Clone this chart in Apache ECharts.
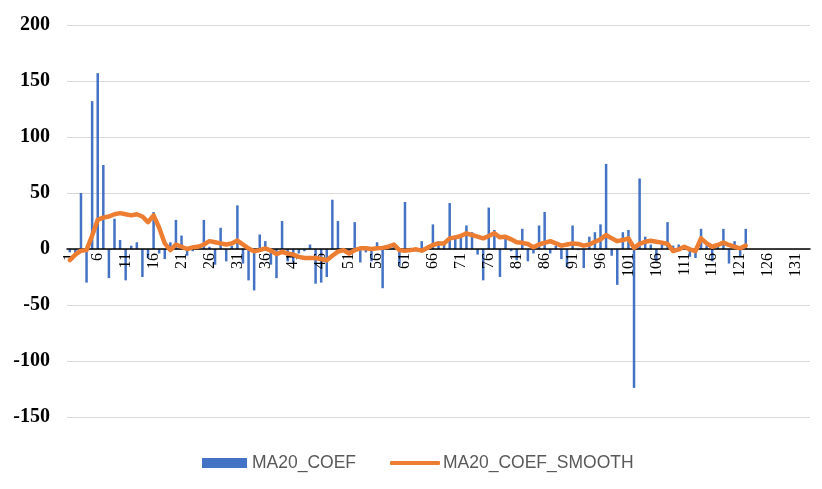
<!DOCTYPE html>
<html>
<head>
<meta charset="utf-8">
<script src="https://cdn.jsdelivr.net/npm/echarts@6/dist/echarts.min.js"></script>
<style>
html,body{margin:0;padding:0;background:#fff;}
#c{width:822px;height:489px;}
</style>
</head>
<body>
<div id="c"></div>
<script>
// Category labels 1..133
const categories = [];
for (let i = 1; i <= 133; i++) categories.push(String(i));

// MA20_COEF values (categories 1..122)
const coef = [
  -3, -5, 50, -30, 132, 157, 75, -26, 27, 8,
  -28, 3, 6, -25, -8, 33, -4, -9, 6, 26,
  12, -6, -2, 3, 26, 2, -14, 19, -11, 3,
  39, -13, -28, -37, 13, 7, -14, -26, 25, -11,
  -12, -4, -2, 4, -31, -30, -25, 44, 25, -2,
  -3, 24, -12, -3, -11, 6, -35, 2, 3, -15,
  42, 1, -2, 7, 2, 22, 7, 7, 41, 12,
  13, 21, 15, -5, -28, 37, 17, -25, 12, -2,
  -10, 18, -11, -4, 21, 33, -4, 3, -9, -16,
  21, -1, -17, 11, 15, 22, 76, -6, -32, 15,
  17, -124, 63, 11, 4, -11, 7, 24, 3, 4,
  2, -7, -8, 18, 3, -11, 2, 18, -13, 7,
  -7, 18
];

// MA20_COEF_SMOOTH values (categories 1..122)
const coefSmooth = [
  -10, -5, -1.5, -1, 12, 26, 28, 29, 31, 32,
  31, 30, 31, 29, 24, 30, 19, 5, -1, 4,
  2, 0, 1.5, 2, 4, 7, 6, 5, 4, 5,
  7.5, 4, 0.5, -2, -1, 0.5, -1.5, -4.5, -2.5, -4,
  -5, -7, -8, -8, -8, -9, -10, -6, -2.4, -1,
  -4, -1, 0.6, 0.6, 0, 0.6, 1, 2, 4, -1,
  -1.5, -1, -0.3, -1.5, 1, 3.6, 5, 5, 9.5, 10.4,
  11.6, 14, 12.5, 11, 9.5, 11.6, 14, 10.4, 11, 8.6,
  6, 5.5, 4.5, 1.5, 4, 5.5, 7, 5, 3, 4,
  5, 4.5, 3, 4, 6.5, 8.6, 12.5, 9.5, 7, 8,
  9.5, 1, 4.5, 6.5, 7.4, 6.5, 5.7, 4.5, -1.8, -0.3,
  2, -0.3, -1.8, 9.5, 5, 2, 3.6, 5.7, 3.6, 2,
  0.6, 3
];

const yTicks = { min: -150, max: 200, interval: 50 };

const gridTop = 25, gridBottom = 72, chartH = 489;
const plotH = chartH - gridTop - gridBottom;
// move the category axis (line + labels) up to the zero line
const zeroOffset = -plotH * (0 - yTicks.min) / (yTicks.max - yTicks.min);

const legendText = { fontFamily: 'Liberation Sans, Arial, sans-serif', fontSize: 17.5, color: '#595959' };

const chart = echarts.init(document.getElementById('c'), null, { renderer: 'canvas' });
chart.setOption({
  animation: false,
  backgroundColor: '#ffffff',
  grid: { left: 67, right: 12, top: gridTop, bottom: gridBottom, containLabel: false },
  legend: [
    {
      data: [{ name: 'MA20_COEF', icon: 'rect' }],
      left: 197, top: 449,
      itemWidth: 45, itemHeight: 10, itemGap: 5,
      textStyle: Object.assign({ padding: [0, 0, 0, 0] }, legendText)
    },
    {
      data: [{ name: 'MA20_COEF_SMOOTH', icon: 'roundRect' }],
      left: 385, top: 449,
      itemWidth: 50, itemHeight: 4, itemGap: 3,
      textStyle: Object.assign({ padding: [0, 0, 0, -2] }, legendText)
    }
  ],
  xAxis: {
    type: 'category',
    data: categories,
    boundaryGap: true,
    offset: zeroOffset,
    z: 2.5,
    axisLine: { onZero: false, lineStyle: { color: '#000', width: 1.5 } },
    axisTick: { show: false },
    axisLabel: {
      interval: 4, rotate: 90, margin: 4,
      fontFamily: 'Liberation Serif, Times New Roman, serif',
      fontSize: 16, color: '#000'
    },
    splitLine: { show: false }
  },
  yAxis: {
    type: 'value',
    min: yTicks.min, max: yTicks.max, interval: yTicks.interval,
    axisLine: { show: false },
    axisTick: { show: false },
    axisLabel: {
      margin: 17,
      fontFamily: 'Liberation Serif, Times New Roman, serif',
      fontSize: 20, fontWeight: 'bold', color: '#000'
    },
    splitLine: { lineStyle: { color: '#d9d9d9', width: 1 } }
  },
  series: [
    {
      name: 'MA20_COEF', type: 'bar', data: coef,
      barWidth: 2.5, z: 2,
      itemStyle: { color: '#4472C4' }
    },
    {
      name: 'MA20_COEF_SMOOTH', type: 'line', data: coefSmooth,
      symbol: 'none', smooth: false, z: 3,
      lineStyle: { color: '#ED7D31', width: 4.5, join: 'round', cap: 'round' },
      itemStyle: { color: '#ED7D31' }
    }
  ]
});
</script>
</body>
</html>
